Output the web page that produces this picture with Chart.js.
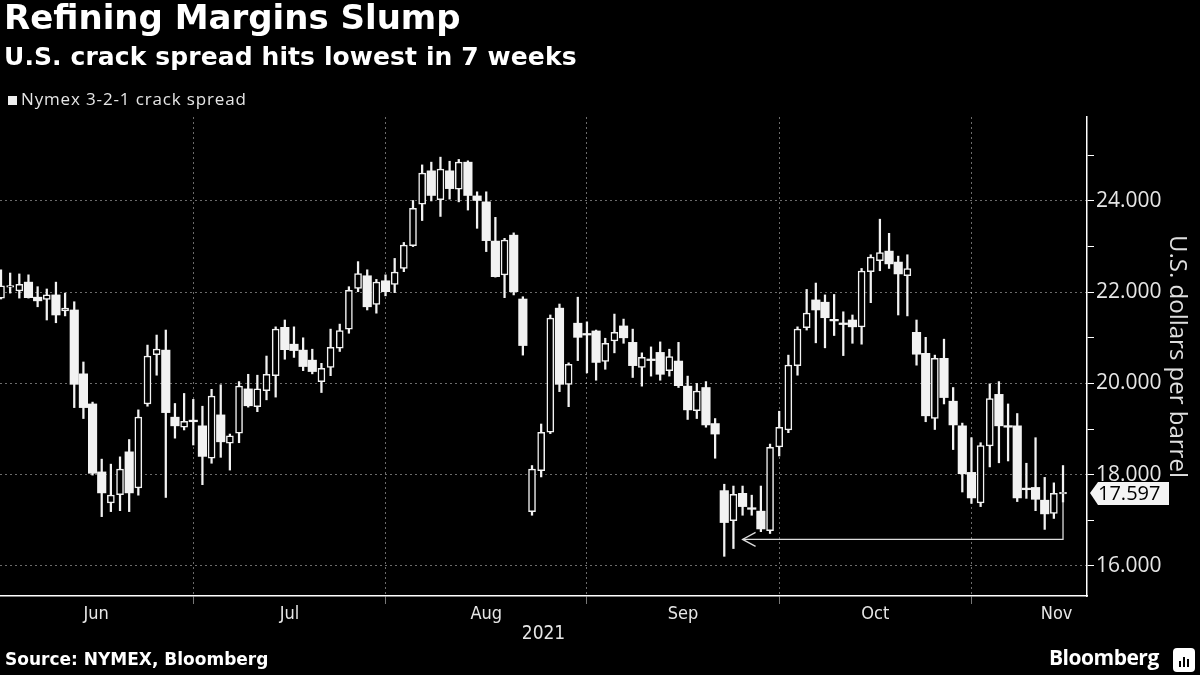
<!DOCTYPE html>
<html>
<head>
<meta charset="utf-8">
<title>Refining Margins Slump</title>
<script src="https://cdn.jsdelivr.net/npm/chart.js@4.4.0/dist/chart.umd.min.js"></script>
<style>
    html, body { margin: 0; padding: 0; background: #000; }
    body { width: 1200px; height: 675px; position: relative; overflow: hidden; font-family: "Open Sans", sans-serif; color: #fff; }
    #crack-chart { position: absolute; left: 0; top: 0; }
    .headline { position: absolute; left: 4px; top: -3px; font-family: "DejaVu Sans", sans-serif; font-size: 34px; font-weight: 700; }
    .subhead { position: absolute; left: 4px; top: 42px; font-family: "DejaVu Sans", sans-serif; font-size: 25px; font-weight: 700; letter-spacing: 0.1px; }
    .legend { position: absolute; left: 8px; top: 87px; font-size: 17px; letter-spacing: 0.85px; color: #e6e6e6; }
    .legend .swatch { display: inline-block; width: 9px; height: 9px; background: #eee; margin-right: 4px; }
    .source { position: absolute; left: 5px; top: 649px; font-family: "DejaVu Sans", sans-serif; font-size: 17px; font-weight: 700; }
    .brand { position: absolute; left: 1049px; top: 643px; font-size: 21px; font-weight: 700; letter-spacing: -0.5px; }
    .brand-icon { position: absolute; left: 1173px; top: 648px; width: 22px; height: 24px; border-radius: 4px; background: #fff; }
    .brand-icon i { position: absolute; bottom: 5px; width: 2px; background: #000; }
</style>
</head>
<body>
<canvas id="crack-chart" width="1200" height="675"></canvas>
<div class="headline">Refining Margins Slump</div>
<div class="subhead">U.S. crack spread hits lowest in 7 weeks</div>
<div class="legend"><span class="swatch"></span>Nymex 3-2-1 crack spread</div>
<div class="source">Source: NYMEX, Bloomberg</div>
<div class="brand">Bloomberg</div>
<div class="brand-icon"><i style="left:6px;height:6px"></i><i style="left:10px;height:10px"></i><i style="left:14px;height:8px"></i></div>

<script>
// --- Data (one entry per trading day, June to mid-November 2021) ---
const opens = [
    21.87, 22.11, 22.03, 22.22, 21.89, 21.84, 21.94, 21.59, 21.61, 20.21,
    19.55, 18.06, 17.38, 17.56, 18.50, 17.71, 19.55, 20.63, 20.73, 19.26,
    19.04, 19.18, 19.07, 18.36, 19.31, 18.69, 18.91, 19.88, 19.49, 19.84,
    20.17, 21.23, 20.86, 20.73, 20.51, 20.04, 20.35, 20.77, 21.19, 22.08,
    22.36, 21.73, 22.25, 22.17, 22.52, 23.02, 23.93, 24.66, 24.03, 24.66,
    24.26, 24.85, 24.11, 23.98, 23.12, 22.38, 23.25, 21.85, 17.19, 18.09,
    18.93, 21.65, 19.98, 21.32, 21.09, 21.15, 20.48, 20.93, 21.26, 20.90,
    20.35, 20.52, 20.68, 20.28, 20.49, 19.94, 19.40, 19.91, 19.12, 17.65,
    16.99, 17.59, 17.26, 17.20, 16.77, 18.61, 18.98, 20.39, 21.22, 21.83,
    21.78, 21.39, 21.31, 21.39, 21.24, 22.45, 22.69, 22.90, 22.66, 22.36,
    21.12, 20.66, 19.23, 20.55, 19.61, 19.07, 18.05, 17.38, 18.63, 19.76,
    19.06, 19.07, 17.69, 17.72, 17.44, 17.15, 17.58
];
const highs = [
    22.49, 22.42, 22.40, 22.38, 22.12, 22.07, 22.22, 21.98, 21.79, 20.47,
    19.59, 18.34, 18.23, 18.39, 18.77, 19.42, 20.84, 21.06, 21.17, 19.56,
    19.78, 19.65, 19.50, 19.87, 19.97, 18.89, 20.04, 20.20, 20.18, 20.60,
    21.24, 21.39, 21.24, 21.00, 20.75, 20.44, 21.19, 21.30, 22.12, 22.67,
    22.49, 22.28, 22.38, 22.74, 23.09, 24.01, 24.79, 24.85, 24.96, 24.87,
    24.91, 24.88, 24.20, 24.20, 23.64, 23.18, 23.30, 21.90, 18.20, 19.11,
    21.50, 21.74, 20.45, 21.89, 21.35, 21.17, 20.99, 21.52, 21.41, 21.19,
    20.67, 20.80, 20.91, 20.75, 20.90, 20.16, 20.00, 20.04, 19.23, 17.79,
    17.75, 17.75, 17.55, 17.75, 18.67, 19.39, 20.62, 21.24, 22.06, 22.20,
    21.94, 21.95, 21.57, 21.50, 22.52, 22.82, 23.60, 23.29, 22.79, 22.82,
    21.39, 21.01, 20.62, 20.97, 19.91, 19.13, 18.81, 18.70, 19.99, 20.04,
    19.55, 19.34, 18.25, 18.81, 17.94, 17.82, 18.20
];
const lows = [
    21.85, 21.98, 21.87, 21.87, 21.68, 21.39, 21.33, 21.48, 19.47, 19.23,
    17.99, 17.08, 17.19, 17.21, 17.19, 17.55, 19.50, 20.18, 17.50, 18.80,
    18.98, 18.65, 17.78, 18.25, 18.38, 18.10, 18.70, 19.48, 19.38, 19.64,
    19.70, 20.53, 20.57, 20.28, 20.21, 19.80, 20.17, 20.70, 21.10, 22.01,
    21.61, 21.54, 21.92, 21.99, 22.45, 23.00, 23.57, 24.00, 23.66, 24.04,
    23.98, 23.80, 23.40, 22.89, 22.33, 21.88, 21.94, 20.62, 17.11, 17.95,
    18.90, 19.82, 19.49, 20.50, 20.23, 20.07, 20.31, 20.67, 20.88, 20.13,
    19.94, 20.16, 20.07, 20.16, 19.91, 19.21, 19.23, 19.04, 18.36, 16.21,
    16.38, 17.11, 17.11, 16.75, 16.71, 18.41, 18.92, 20.18, 21.17, 20.89,
    20.78, 21.05, 20.61, 20.88, 20.86, 21.77, 22.47, 22.52, 21.50, 21.48,
    20.40, 19.16, 18.99, 19.55, 18.55, 17.62, 17.37, 17.30, 18.17, 18.26,
    18.30, 17.41, 17.48, 17.21, 16.80, 17.04, 17.40
];
const closes = [
    22.14, 22.13, 22.17, 21.88, 21.81, 21.94, 21.50, 21.65, 19.98, 19.47,
    18.03, 17.60, 17.55, 18.12, 17.60, 19.26, 20.60, 20.75, 19.36, 19.07,
    19.17, 19.16, 18.40, 19.72, 18.72, 18.85, 19.94, 19.51, 19.88, 20.20,
    21.19, 20.74, 20.72, 20.37, 20.26, 20.33, 20.79, 21.16, 22.04, 22.41,
    21.68, 22.22, 22.01, 22.44, 23.03, 23.84, 24.61, 24.12, 24.70, 24.27,
    24.85, 24.12, 24.01, 23.13, 22.34, 23.14, 22.01, 20.83, 18.12, 18.93,
    21.43, 19.98, 20.42, 21.01, 21.06, 20.46, 20.88, 21.12, 21.00, 20.39,
    20.57, 20.50, 20.20, 20.59, 19.95, 19.42, 19.83, 19.09, 18.89, 16.95,
    17.57, 17.30, 17.24, 16.81, 18.60, 19.04, 20.40, 21.19, 21.54, 21.61,
    21.44, 21.37, 21.29, 21.24, 22.46, 22.77, 22.87, 22.62, 22.40, 22.52,
    20.64, 19.29, 20.55, 19.69, 19.09, 18.02, 17.49, 18.64, 19.67, 19.07,
    19.04, 17.49, 17.67, 17.46, 17.14, 17.59, 17.597
];

// --- Axis ticks and labels ---
const monthStarts = [21, 42, 64, 85, 106];          // first trading day of Jul..Nov
const monthLabels = ['Jun', 'Jul', 'Aug', 'Sep', 'Oct', 'Nov'];
const monthLabelPos = [10.4, 31.5, 53, 74.5, 95.5, 115.3];
const yTicks = [16, 17, 18, 19, 20, 21, 22, 23, 24, 25];
const xMin = -0.11, xMax = 118.62;
const yMin = 15.34, yMax = 25.84;

// "lowest in 7 weeks" pointer
const arrowFrom = 81;
const arrowTo = 116;
const arrowLevel = 16.58;

// --- Styles ---
const candleWhite = '#f2f2f2';
const gridGray = 'rgba(255, 255, 255, 0.42)';
const labelFont = '"Liberation Sans Narrow", "DejaVu Sans Condensed", "Roboto Condensed", sans-serif';

// --- Build candle pieces ---
const lastIdx = closes.length - 1;
const wicks = [];
const upBodies = [];
const downBodies = [];
for (let i = 0; i < opens.length; i++) {
    wicks.push({ x: i, y: [lows[i], highs[i]] });
    const body = { x: i, y: [opens[i], closes[i]] };
    if (closes[i] >= opens[i]) upBodies.push(body);
    else downBodies.push(body);
}

// --- Overlay: pointer arrow and last price tag ---
const overlayPlugin = {
    id: 'overlay',
    afterDraw(chart) {
        const { ctx, scales: { x, y } } = chart;
        const xl = x.getPixelForValue(arrowFrom);
        const xr = x.getPixelForValue(arrowTo);
        const ya = y.getPixelForValue(arrowLevel);
        const yw = y.getPixelForValue(lows[lastIdx]);

        ctx.save();
        ctx.strokeStyle = '#dcdcdc';
        ctx.lineWidth = 1.3;
        ctx.beginPath();
        ctx.moveTo(xr, yw);
        ctx.lineTo(xr, ya);
        ctx.lineTo(xl, ya);
        ctx.stroke();
        ctx.beginPath();
        ctx.moveTo(xl + 13, ya - 7);
        ctx.lineTo(xl, ya);
        ctx.lineTo(xl + 13, ya + 7);
        ctx.stroke();

        // last value tag on the axis
        const ty = y.getPixelForValue(closes[lastIdx]);
        const left = x.right + 3;
        ctx.fillStyle = '#f4f4f4';
        ctx.beginPath();
        ctx.moveTo(left, ty);
        ctx.lineTo(left + 8, ty - 11);
        ctx.lineTo(left + 79, ty - 11);
        ctx.lineTo(left + 79, ty + 12);
        ctx.lineTo(left + 8, ty + 12);
        ctx.closePath();
        ctx.fill();
        ctx.fillStyle = '#000';
        ctx.font = '20px "Open Sans"';
        ctx.textBaseline = 'middle';
        ctx.fillText(closes[lastIdx].toFixed(3), left + 8, ty + 1);
        ctx.restore();
    }
};

// --- Chart ---
const ctx = document.getElementById('crack-chart').getContext('2d');
const crackChart = new Chart(ctx, {
    type: 'bar',
    data: {
        datasets: [
            {
                label: 'wicks',
                data: wicks,
                backgroundColor: candleWhite,
                borderWidth: 0,
                barThickness: 1.6,
                grouped: false,
                order: 2
            },
            {
                label: 'up',
                data: upBodies,
                backgroundColor: '#000',
                borderColor: candleWhite,
                borderWidth: 1.5,
                borderSkipped: false,
                barThickness: 7,
                minBarLength: 1.6,
                grouped: false,
                order: 1
            },
            {
                label: 'down',
                data: downBodies,
                backgroundColor: candleWhite,
                borderWidth: 0,
                barThickness: 8.5,
                minBarLength: 1.6,
                grouped: false,
                order: 0
            }
        ]
    },
    options: {
        responsive: false,
        animation: false,
        layout: { padding: { top: 117, left: 0, right: 0, bottom: 30 } },
        plugins: {
            legend: { display: false },
            tooltip: { enabled: false }
        },
        scales: {
            x: {
                type: 'linear',
                min: xMin,
                max: xMax,
                offset: false,
                afterBuildTicks: (scale) => {
                    scale.ticks = monthStarts.concat(monthLabelPos)
                        .sort((a, b) => a - b)
                        .map(v => ({ value: v }));
                },
                afterFit: (scale) => { scale.height = 49; },
                ticks: {
                    autoSkip: false,
                    maxRotation: 0,
                    color: '#e6e6e6',
                    font: { family: labelFont, size: 18 },
                    padding: 0,
                    callback: (value) => {
                        const i = monthLabelPos.indexOf(value);
                        return i >= 0 ? monthLabels[i] : '';
                    }
                },
                grid: {
                    offset: false,
                    color: (c) => monthStarts.includes(c.tick && c.tick.value) ? gridGray : 'transparent',
                    tickColor: (c) => monthStarts.includes(c.tick && c.tick.value) ? '#777' : 'transparent',
                    tickLength: 8,
                    lineWidth: 1
                },
                border: { color: '#fff', width: 1.5, dash: [2, 3] },
                title: {
                    display: true,
                    text: '2021',
                    color: '#e6e6e6',
                    font: { family: labelFont, size: 19 },
                    padding: { top: 0, bottom: 0 }
                }
            },
            y: {
                position: 'right',
                min: yMin,
                max: yMax,
                afterBuildTicks: (scale) => {
                    scale.ticks = yTicks.map(v => ({ value: v }));
                },
                afterFit: (scale) => { scale.width = 113; },
                ticks: {
                    color: '#e6e6e6',
                    font: { family: 'Open Sans', size: 21 },
                    padding: 2,
                    callback: (value) => value % 2 === 0 ? value.toFixed(3) : ''
                },
                grid: {
                    color: (c) => c.tick && c.tick.value % 2 === 0 ? gridGray : 'transparent',
                    tickColor: '#fff',
                    tickLength: 7,
                    lineWidth: 1
                },
                border: { color: '#fff', width: 1.5, dash: [2, 3] },
                title: {
                    display: true,
                    text: 'U.S. dollars per barrel',
                    color: '#dedede',
                    font: { family: 'Open Sans', size: 24 },
                    padding: { top: 9, bottom: 0 }
                }
            }
        }
    },
    plugins: [overlayPlugin]
});
</script>
</body>
</html>
